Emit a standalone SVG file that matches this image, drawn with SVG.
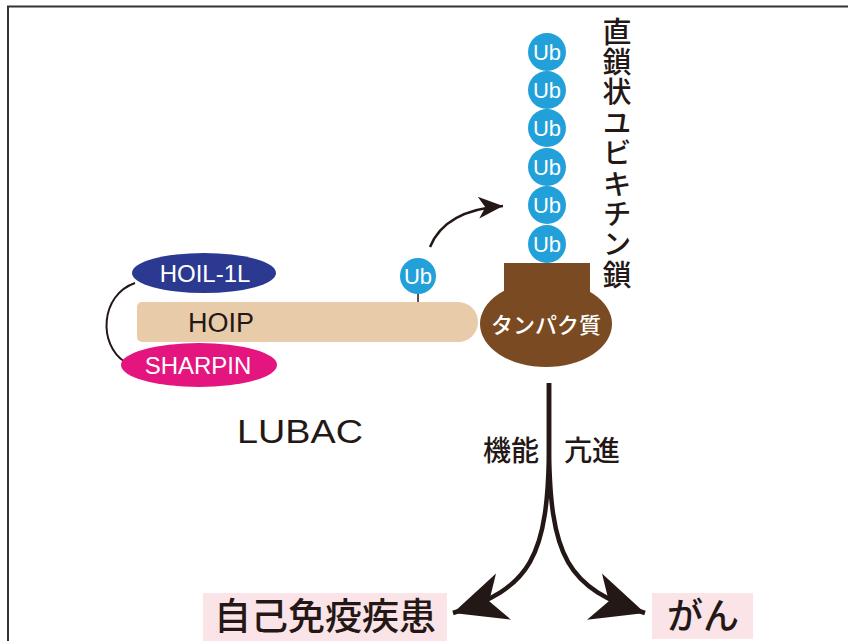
<svg xmlns="http://www.w3.org/2000/svg" width="848" height="641" viewBox="0 0 848 641">
<style>
.lat{font-family:"Liberation Sans",Arial,sans-serif}
.jp{font-family:"Noto Sans CJK JP","Noto Sans",sans-serif;font-weight:500}
.ub circle{fill:#22a0da}
.ub text{fill:#fff;font-family:"Liberation Sans",Arial,sans-serif;font-size:22px;text-anchor:middle}
.line{fill:none;stroke:#231815}
.pink{fill:#fbe4e8}
</style>
<defs>
<marker id="ahSmall" markerUnits="userSpaceOnUse" markerWidth="30" markerHeight="30" viewBox="-20 -10 22 20" refX="0" refY="0" orient="auto">
<path d="M0,0 L-18,-8 L-13,0 L-18,8 Z" fill="#231815"/>
</marker>
<marker id="ahBig" markerUnits="userSpaceOnUse" markerWidth="60" markerHeight="60" viewBox="-50 -25 52 50" refX="0" refY="0" orient="auto">
<path d="M0,0 L-46,-21 L-33,0 L-46,21 Z" fill="#231815"/>
</marker>
</defs>
<rect width="848" height="641" fill="#fff"/>
<path d="M8,641 L8,6.5 L848,6.5" fill="none" stroke="#333" stroke-width="2"/>

<g id="connectors">
<path class="line" d="M135,283 C100,295 98,345 125,362" stroke-width="2"/>
<path class="line" d="M430,247 Q445,210 503,206" stroke-width="2.5" marker-end="url(#ahSmall)"/>
<path class="line" d="M549,383 L549,440 C549,560 530,588 453,613" stroke-width="4.5" marker-end="url(#ahBig)"/>
<path class="line" d="M549,383 L549,440 C549,560 568,588 645,613" stroke-width="4.5" marker-end="url(#ahBig)"/>
<line class="line" x1="418" y1="290" x2="418" y2="303" stroke-width="1.5"/>
</g>

<g id="hoip">
<path d="M142,302 L458,302 A20,20 0 0 1 458,342 L142,342 A5,5 0 0 1 137,337 L137,307 A5,5 0 0 1 142,302 Z" fill="#e8cca9"/>
<text class="lat" x="221" y="332" font-size="27" text-anchor="middle" fill="#231815">HOIP</text>
</g>

<g id="hoil1l">
<ellipse cx="204" cy="273" rx="72" ry="20" fill="#2b3990"/>
<text class="lat" x="205" y="282" font-size="24" text-anchor="middle" fill="#fff">HOIL-1L</text>
</g>

<g id="sharpin">
<ellipse cx="199" cy="365" rx="78" ry="22" fill="#e5157f"/>
<text class="lat" x="198" y="374" font-size="24" text-anchor="middle" fill="#fff">SHARPIN</text>
</g>

<g id="lubac">
<text class="lat" x="237" y="443" font-size="33" textLength="126" lengthAdjust="spacingAndGlyphs" fill="#231815">LUBAC</text>
</g>

<g id="ub-single" class="ub">
<circle cx="418" cy="276" r="18"/>
<text x="418" y="284">Ub</text>
</g>

<g id="protein">
<rect x="504" y="263" width="86" height="40" fill="#7a4a22"/>
<ellipse cx="546" cy="324" rx="66" ry="43" fill="#7a4a22"/>
<text class="jp" x="546" y="333" font-size="22" text-anchor="middle" fill="#fff">タンパク質</text>
</g>

<g id="ub-chain" class="ub">
<circle cx="547" cy="52" r="19"/><text x="547" y="60">Ub</text>
<circle cx="547" cy="90" r="19"/><text x="547" y="98">Ub</text>
<circle cx="547" cy="128" r="19"/><text x="547" y="136">Ub</text>
<circle cx="547" cy="167" r="19"/><text x="547" y="175">Ub</text>
<circle cx="547" cy="205" r="19"/><text x="547" y="213">Ub</text>
<circle cx="547" cy="244" r="19"/><text x="547" y="252">Ub</text>
</g>

<g id="chain-label">
<text class="jp" x="617" y="17" font-size="29" letter-spacing="1.4" style="writing-mode:vertical-rl" fill="#231815">直鎖状ユビキチン鎖</text>
</g>

<g id="function-label">
<text class="jp" x="539" y="461" font-size="28" text-anchor="end" fill="#231815">機能</text>
<text class="jp" x="564" y="461" font-size="28" fill="#231815">亢進</text>
</g>

<g id="autoimmune">
<rect class="pink" x="203" y="593" width="244" height="48"/>
<text class="jp" x="325" y="630" font-size="37" text-anchor="middle" fill="#231815">自己免疫疾患</text>
</g>

<g id="cancer">
<rect class="pink" x="652" y="593" width="101" height="46"/>
<text class="jp" x="703" y="629" font-size="36" text-anchor="middle" fill="#231815">がん</text>
</g>
</svg>
